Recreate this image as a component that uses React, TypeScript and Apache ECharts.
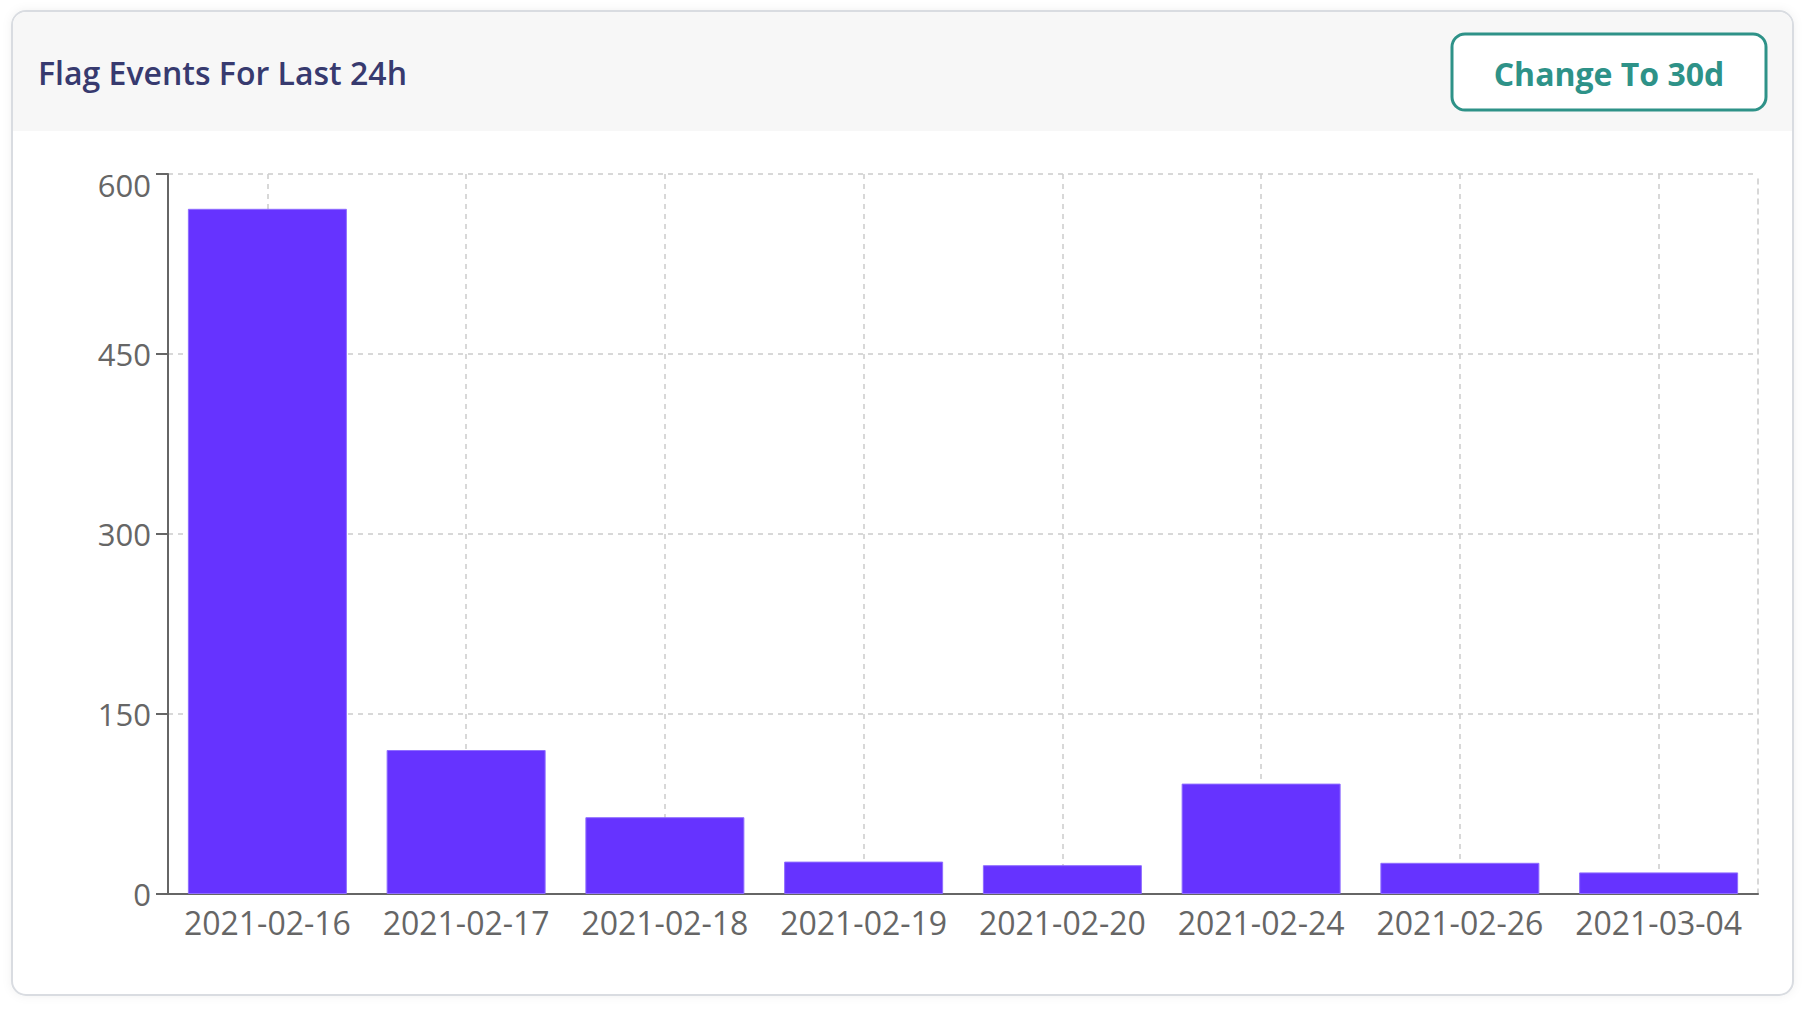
import React, { useEffect, useRef } from "react";
import * as echarts from "echarts";

const categories = [
  "2021-02-16",
  "2021-02-17",
  "2021-02-18",
  "2021-02-19",
  "2021-02-20",
  "2021-02-24",
  "2021-02-26",
  "2021-03-04",
];
const flagEvents = [571, 120, 64, 27, 24, 92, 26, 18];
const yTicks = { min: 0, max: 600, interval: 150 };
const titleText = "Flag Events For Last 24h";
const buttonText = "Change To 30d";

export default function App() {
  const ref = useRef<HTMLDivElement>(null);
  useEffect(() => {
    if (!ref.current) return;
    const chart = echarts.init(ref.current, null, { renderer: "svg" });
    const font = "'Open Sans', 'Noto Sans', sans-serif";
    chart.setOption({
      animation: false,
      backgroundColor: "#ffffff",
      textStyle: { fontFamily: font },
      graphic: [
        {
          type: "rect",
          z: 0,
          shape: { x: 12, y: 11, width: 1781, height: 984, r: 14 },
          style: {
            fill: "#ffffff",
            stroke: "#d9dce1",
            lineWidth: 2,
            shadowBlur: 10,
            shadowColor: "rgba(0,0,0,0.06)",
          },
        },
        {
          type: "rect",
          z: 1,
          shape: { x: 13, y: 12, width: 1779, height: 119, r: [13, 13, 0, 0] },
          style: { fill: "#f7f7f7" },
        },
        {
          type: "text",
          z: 2,
          x: 38,
          y: 72,
          style: {
            text: titleText,
            fontFamily: font,
            fontSize: 32,
            fontWeight: 600,
            fill: "#373a6f",
            verticalAlign: "middle",
            align: "left",
          },
        },
        {
          type: "rect",
          z: 2,
          shape: { x: 1452, y: 34, width: 314, height: 76, r: 13 },
          style: { fill: "#ffffff", stroke: "#2e9288", lineWidth: 3 },
        },
        {
          type: "text",
          z: 3,
          x: 1609,
          y: 73,
          style: {
            text: buttonText,
            fontFamily: font,
            fontSize: 32,
            fontWeight: 700,
            fill: "#2e9288",
            align: "center",
            verticalAlign: "middle",
          },
        },
      ],
      grid: { left: 168, right: 46, top: 174, bottom: 120, containLabel: false },
      xAxis: {
        type: "category",
        data: categories,
        boundaryGap: true,
        axisLine: { lineStyle: { color: "#666666", width: 2 } },
        axisTick: { alignWithLabel: true, length: 12, lineStyle: { color: "#666666", width: 2 } },
        axisLabel: { interval: 0, color: "#666666", fontSize: 32, fontFamily: font, margin: 12 },
        splitLine: {
          show: true,
          alignWithLabel: true,
          lineStyle: { color: "#cccccc", type: [5, 5], width: 1.5 },
        },
      },
      yAxis: [
        {
          type: "value",
          min: yTicks.min,
          max: yTicks.max,
          interval: yTicks.interval,
          axisLine: { show: true, lineStyle: { color: "#666666", width: 2 } },
          axisTick: { show: true, length: 12, lineStyle: { color: "#666666", width: 2 } },
          axisLabel: {
            color: "#666666",
            fontSize: 31,
            fontFamily: font,
            margin: 17,
            formatter: (v: number) => (v === yTicks.max ? "{top|" + v + "}" : String(v)),
            rich: {
              top: { fontSize: 31, color: "#666666", fontFamily: font, padding: [22, 0, 0, 0] },
            },
          },
          splitLine: { show: true, lineStyle: { color: "#cccccc", type: [5, 5], width: 1.5 } },
        },
        {
          type: "value",
          position: "right",
          min: yTicks.min,
          max: yTicks.max,
          interval: yTicks.interval,
          axisLine: { show: true, lineStyle: { color: "#cccccc", type: [5, 5], width: 1.5 } },
          axisTick: { show: false },
          axisLabel: { show: false },
          splitLine: { show: false },
        },
      ],
      series: [
        {
          type: "bar",
          data: flagEvents,
          barCategoryGap: "20%",
          itemStyle: { color: "#6633ff", borderColor: "#8f6dff", borderWidth: 1 },
        },
      ],
    });
    return () => chart.dispose();
  }, []);
  return (
    <div
      ref={ref}
      style={{ position: "fixed", left: 0, top: 0, width: 1804, height: 1014 }}
    />
  );
}
